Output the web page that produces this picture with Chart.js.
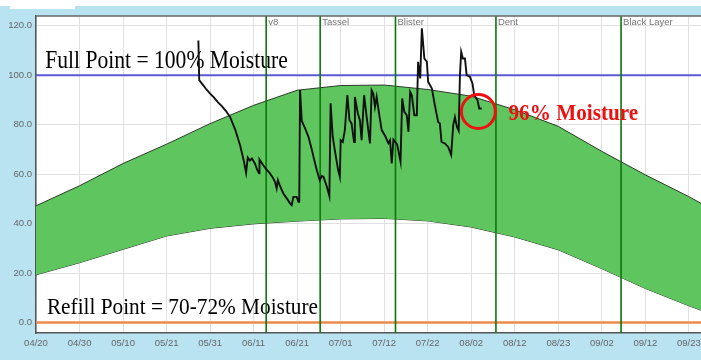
<!DOCTYPE html>
<html lang="en">
<head>
<meta charset="UTF-8">
<title>Soil moisture</title>
<style>
  html, body { margin: 0; padding: 0; background: #fff; }
  canvas { display: block; }
</style>
</head>
<body>
<canvas id="moistureChart" width="701" height="360"></canvas>

<script src="https://cdn.jsdelivr.net/npm/chart.js"></script>
<script>
// x axis is in days after 04/20
const xTickLabels = ['04/20', '04/30', '05/10', '05/21', '05/31', '06/11', '06/21', '07/01',
                     '07/12', '07/22', '08/02', '08/12', '08/23', '09/02', '09/12', '09/23'];
const xTickStep = 10.4;
const xMaxDay = 158.9;
const yTicks = [0, 20, 40, 60, 80, 100, 120];

// green target band
const bandDays  = [0, 10.4, 20.8, 31.2, 41.6, 52, 62.4, 72.8, 83.2, 93.6, 104, 114.4, 124.8, 135.2, 145.6, 156, 158.9];
const bandUpper = [47.2, 55.3, 64.3, 72.1, 80.4, 87.8, 93.9, 95.8, 96.0, 94.2, 91.5, 86.0, 79.3, 69.2, 59.7, 50.9, 48.2];
const bandLower = [19.3, 24.2, 29.6, 35.0, 38.1, 39.9, 41.0, 41.9, 42.1, 41.1, 38.6, 34.6, 29.4, 21.8, 13.8, 6.8, 5.0];

// sensor reading
const moistureDays = [38.8, 39.0, 39.7, 40.6, 41.6, 42.5, 43.5, 44.4, 45.4, 46.4, 47.6, 48.8, 49.7, 50.2, 50.6,
  51.1, 51.6, 52.3, 52.9, 53.3, 53.4, 54.3, 55.0, 55.9, 56.6, 57.1, 57.5, 57.8, 58.3, 59.1, 60.0, 60.7, 61.1,
  61.5, 62.3, 62.7, 62.9, 63.1, 63.5, 64.3, 65.1, 65.9, 66.3, 67.1, 67.8, 68.3, 68.7, 69.5, 70.1, 70.4, 70.9,
  71.4, 72.2, 72.6, 72.8, 73.3, 73.8, 74.4, 74.9, 75.4, 76.0, 76.2, 76.9, 77.4, 77.8, 78.4, 79.0, 79.8, 80.2,
  80.6, 81.0, 81.4, 81.8, 82.6, 83.4, 84.2, 84.6, 85.0, 85.4, 86.3, 87.1, 87.5, 88.0, 88.6, 89.0, 89.4, 89.8,
  90.4, 91.0, 91.3, 91.8, 92.2, 92.8, 93.4, 93.7, 94.6, 95.3, 96.1, 96.5, 96.9, 97.7, 98.5, 99.2, 99.7, 100.1,
  100.6, 101.0, 101.3, 101.6, 102.0, 102.5, 102.9, 103.7, 104.3, 104.7, 105.5, 105.9, 106.5];
const moistureValues = [114, 98, 96.5, 94.5, 92.5, 91, 89, 87.5, 85.5, 83, 78, 71.5, 65, 60.5, 66.7,
  65.5, 66.3, 64.3, 61.6, 60.3, 65.9, 63.6, 62, 60.3, 58.5, 56.9, 54.2, 57.6, 55.2, 52.2, 50, 48.2, 47.5,
  50.8, 50.8, 48.8, 48.8, 94, 81.5, 78.5, 75.1, 70, 67, 61.6, 57.5, 59.3, 58.9, 54.9, 51.1, 88.6, 75.1,
  69.7, 61.6, 58.9, 73.7, 73, 77.8, 91.9, 81.8, 80.5, 73, 91.2, 84.5, 81.8, 73.7, 91.9, 83.2, 72.4, 93.9,
  92.6, 87.2, 91.2, 86.5, 77.8, 75.5, 72.5, 73.7, 64.3, 74, 72, 65, 90.6, 85.2, 83.8, 77.1, 93.3, 91.9,
  83.8, 83.8, 105.4, 98.7, 118.9, 106.7, 105.4, 97.3, 94.6, 87.9, 81.1, 80.5, 73, 72.4, 71, 67.8, 79.8, 83,
  79, 77.5, 100, 109.4, 106.7, 106.7, 100, 99.3, 96.6, 91.9, 89.9, 86.5, 86.5];

const stageNames = ['v8', 'Tassel', 'Blister', 'Dent', 'Black Layer'];
const stageDays = [55.0, 67.9, 85.9, 109.9, 139.8];

const fullPoint = 100;
const refillPoint = 0;
const latestReading = { day: 105.7, value: 85.3 };

// text callouts, placed in data units
const notes = [
  { text: 'Full Point = 100% Moisture', day: 2.2, value: 102.8, font: '21.6px "Liberation Serif"', color: '#000', top: false },
  { text: 'Refill Point = 70-72% Moisture', day: 2.6, value: 3.4, font: '21.3px "Liberation Serif"', color: '#000', top: false },
  { text: '96% Moisture', day: 112.9, value: 81.8, font: 'bold 21.2px "Liberation Serif"', color: '#ee1111', top: true }
];

const pairs = (xs, ys) => xs.map((x, i) => ({ x: x, y: ys[i] }));

function drawNotes(chart, top) {
  const ctx = chart.ctx;
  const xs = chart.scales.x, ys = chart.scales.y;
  ctx.save();
  notes.filter(n => n.top === top).forEach(n => {
    ctx.save();
    ctx.translate(xs.getPixelForValue(n.day), ys.getPixelForValue(n.value));
    ctx.scale(1, 1.12);
    ctx.font = n.font;
    ctx.fillStyle = n.color;
    ctx.textBaseline = 'alphabetic';
    ctx.fillText(n.text, 0, 0);
    ctx.restore();
  });
  ctx.restore();
}

const frame = {
  id: 'frame',
  beforeDraw(chart) {
    const { ctx, chartArea: a } = chart;
    ctx.save();
    ctx.fillStyle = '#b9e3f1';
    ctx.fillRect(0, 0, chart.width, chart.height);
    ctx.fillStyle = '#fff';
    ctx.fillRect(0, 0, chart.width, 6);
    ctx.fillRect(10, 0, 65, 9);
    ctx.fillRect(a.left, a.top, a.right - a.left, a.bottom - a.top);
    ctx.restore();
  },
  beforeDatasetsDraw(chart) {
    drawNotes(chart, false);
  },
  afterDatasetsDraw(chart) {
    const { ctx, chartArea: a } = chart;
    const xs = chart.scales.x;
    ctx.save();
    ctx.font = '9.5px Arial';
    ctx.fillStyle = '#777';
    ctx.textBaseline = 'alphabetic';
    stageNames.forEach((name, i) => {
      ctx.fillText(name, xs.getPixelForValue(stageDays[i]) + 2, a.top + 9);
    });
    ctx.strokeStyle = '#666';
    ctx.lineWidth = 1.5;
    ctx.beginPath();
    ctx.moveTo(a.left, a.top);
    ctx.lineTo(a.right, a.top);
    ctx.stroke();
    ctx.restore();
    drawNotes(chart, true);
  }
};

const stageSets = stageNames.map((name, i) => ({
  label: name,
  data: [{ x: stageDays[i], y: -10 }, { x: stageDays[i], y: 130 }],
  borderColor: '#0c760c',
  borderWidth: 1.6,
  order: 5
}));

new Chart(document.getElementById('moistureChart'), {
  type: 'line',
  data: {
    datasets: [
      { label: 'Lower', data: pairs(bandDays, bandLower), borderColor: '#2b3a2b', borderWidth: 1, fill: false, order: 10 },
      { label: 'Upper', data: pairs(bandDays, bandUpper), borderColor: '#2b3a2b', borderWidth: 1,
        fill: '-1', backgroundColor: '#5fc65f', order: 9 },
      { label: 'Full', data: [{ x: 0, y: fullPoint }, { x: xMaxDay, y: fullPoint }], borderColor: '#5a5ad4', borderWidth: 2, order: 6 },
      { label: 'Refill', data: [{ x: 0, y: refillPoint }, { x: xMaxDay, y: refillPoint }], borderColor: '#e98b4c', borderWidth: 2.5, order: 6 },
      ...stageSets,
      { label: 'Moisture', data: pairs(moistureDays, moistureValues), borderColor: '#111', borderWidth: 1.9, order: 1 },
      { label: 'Latest', data: [latestReading].map(p => ({ x: p.day, y: p.value })), showLine: false,
        pointRadius: 17, pointBorderWidth: 3, pointBorderColor: '#ee1111', pointBackgroundColor: 'rgba(0,0,0,0)', order: 0 }
    ]
  },
  options: {
    responsive: false,
    animation: false,
    layout: { autoPadding: false, padding: { top: 16, right: 0, left: 0, bottom: 0 } },
    elements: { point: { radius: 0 }, line: { tension: 0 } },
    plugins: { legend: { display: false }, tooltip: { enabled: false } },
    scales: {
      x: {
        type: 'linear',
        min: 0,
        max: xMaxDay,
        afterBuildTicks: s => { s.ticks = xTickLabels.map((_, i) => ({ value: i * xTickStep })); },
        afterFit: s => { s.height = 27; s.paddingLeft = 0; s.paddingRight = 0; },
        ticks: {
          autoSkip: false,
          maxRotation: 0,
          padding: 5,
          color: '#666',
          font: { family: 'Arial', size: 9.5 },
          callback: (v, i) => xTickLabels[i]
        },
        grid: { color: '#e0e0e0', drawTicks: false },
        border: { color: '#555', width: 1.5 }
      },
      y: {
        min: -4.2,
        max: 123.9,
        afterBuildTicks: s => { s.ticks = yTicks.map(v => ({ value: v })); },
        afterFit: s => { s.width = 36; s.paddingTop = 0; s.paddingBottom = 0; },
        ticks: {
          padding: 4,
          color: '#666',
          font: { family: 'Arial', size: 9.5 },
          callback: v => v.toFixed(1)
        },
        grid: { color: '#e0e0e0', drawTicks: false },
        border: { color: '#555', width: 1.5 }
      }
    }
  },
  plugins: [frame]
});
</script>
</body>
</html>
